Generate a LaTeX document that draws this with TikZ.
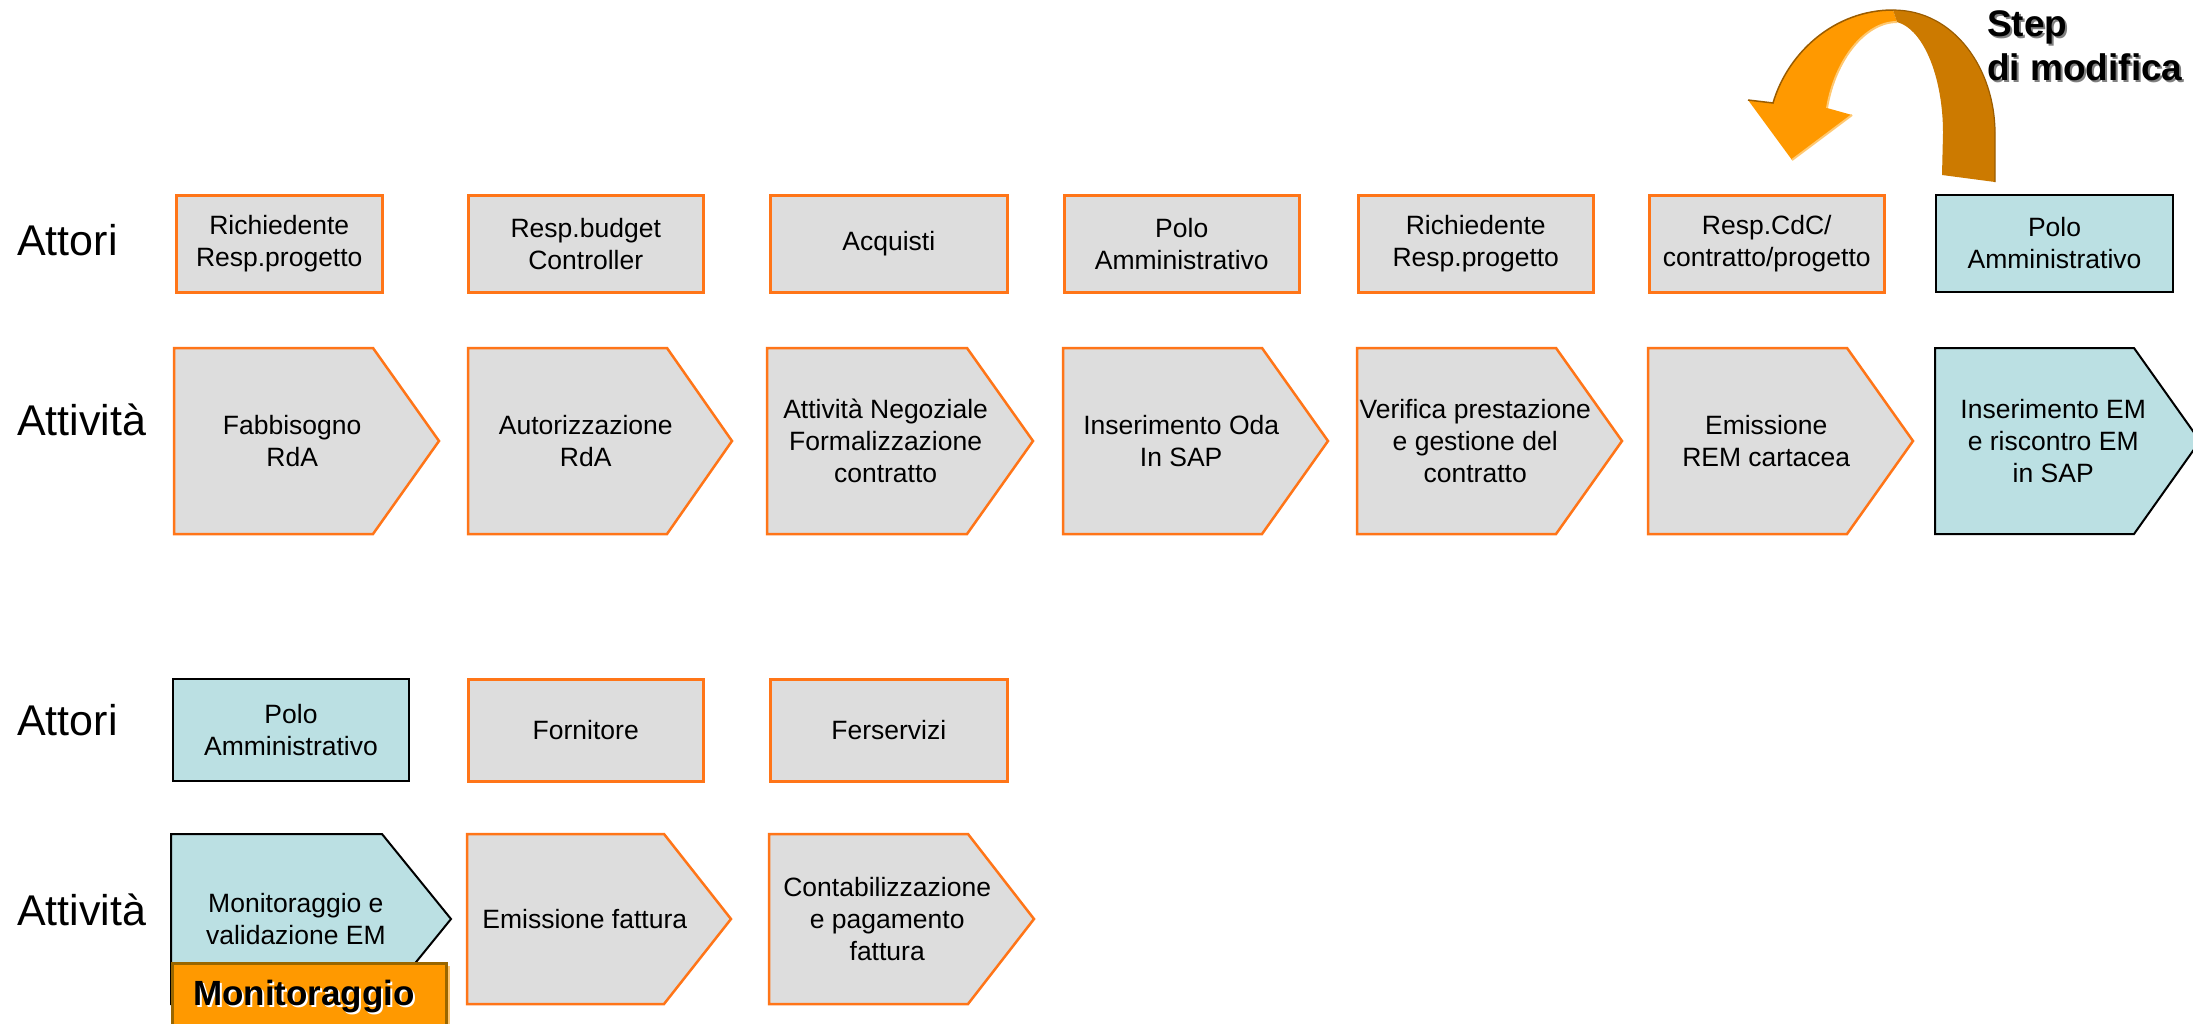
\documentclass[tikz,border=0pt]{standalone}
\usepackage{fontspec}
\setmainfont{Liberation Sans}
\definecolor{boxgray}{HTML}{DDDDDD}
\definecolor{boxorange}{HTML}{FF7518}
\definecolor{tealfill}{HTML}{BBE0E3}
\definecolor{arrowbright}{HTML}{FF9900}
\definecolor{arrowdark}{HTML}{CC7A00}
\definecolor{arrowedge}{HTML}{9A5C00}
\definecolor{arrowlight}{HTML}{FFC870}
\definecolor{monfill}{HTML}{FF9900}
\definecolor{monedge}{HTML}{996600}
\tikzset{
  grayshape/.style={fill=boxgray, draw=boxorange, line width=2.5pt},
  tealshape/.style={fill=tealfill, draw=black, line width=2pt},
  bodytext/.style={font=\fontsize{26.5}{32}\selectfont, align=center, inner sep=0pt},
  actorbox/.style={bodytext, rectangle, anchor=north west},
  rowlabel/.style={font=\fontsize{43}{50}\selectfont, anchor=base west, inner sep=0pt},
  boldtext/.style={font=\bfseries\fontsize{35}{44}\selectfont, inner sep=0pt},
  steptext/.style={font=\bfseries\fontsize{37}{44}\selectfont, inner sep=0pt, align=left, anchor=north west},
}
\newcommand{\mkchev}[8]{%
  \draw[#7] (#2,#3) -- ++(#4,0) -- ++(#5,{#6/2}) -- ++(-#5,{#6/2}) -- ++(-#4,0) -- cycle;
  \node[bodytext] (#1) at ({#2+0.446*(#4+#5)},{#3+#6/2}) {#8};
}
\begin{document}
\begin{tikzpicture}[x=1pt,y=-1pt]
\useasboundingbox (0,0) rectangle (2193,1023);
\fill[white] (0,0) rectangle (2193,1023);

% row labels
\node[rowlabel] (l1) at (17,255) {Attori};
\node[rowlabel] (l2) at (17,435) {Attività};
\node[rowlabel] (l3) at (17,735) {Attori};
\node[rowlabel] (l4) at (17,925) {Attività};

% row 1 actors
\node[actorbox, grayshape, minimum width=206pt, minimum height=97pt] (a1) at (175,194) {Richiedente\\Resp.progetto};
\node[actorbox, grayshape, minimum width=235pt, minimum height=97pt] (a2) at (467,194) {Resp.budget\\Controller};
\node[actorbox, grayshape, minimum width=237pt, minimum height=97pt] (a3) at (769,194) {Acquisti};
\node[actorbox, grayshape, minimum width=235pt, minimum height=97pt] (a4) at (1063,194) {Polo\\Amministrativo};
\node[actorbox, grayshape, minimum width=235pt, minimum height=97pt] (a5) at (1357,194) {Richiedente\\Resp.progetto};
\node[actorbox, grayshape, minimum width=235pt, minimum height=97pt] (a6) at (1648,194) {Resp.CdC/\\contratto/progetto};
\node[actorbox, tealshape, minimum width=237pt, minimum height=97pt] (a7) at (1935,194) {Polo\\Amministrativo};

% row 1 activities
\mkchev{c1}{174}{348}{199}{66}{186}{grayshape}{Fabbisogno\\RdA}
\mkchev{c2}{468}{348}{199}{65}{186}{grayshape}{Autorizzazione\\RdA}
\mkchev{c3}{767}{348}{200}{66}{186}{grayshape}{Attività Negoziale\\Formalizzazione\\contratto}
\mkchev{c4}{1063}{348}{199}{66}{186}{grayshape}{Inserimento Oda\\In SAP}
\mkchev{c5}{1357}{348}{199}{66}{186}{grayshape}{Verifica prestazione\\e gestione del\\contratto}
\mkchev{c6}{1648}{348}{199}{66}{186}{grayshape}{Emissione\\REM cartacea}
\mkchev{c7}{1935}{348}{199}{66}{186}{tealshape}{Inserimento EM\\e riscontro EM\\in SAP}

% row 2 actors
\node[actorbox, tealshape, minimum width=236pt, minimum height=102pt] (b1) at (172,678) {Polo\\Amministrativo};
\node[actorbox, grayshape, minimum width=235pt, minimum height=102pt] (b2) at (467,678) {Fornitore};
\node[actorbox, grayshape, minimum width=237pt, minimum height=102pt] (b3) at (769,678) {Ferservizi};

% row 2 activities
\mkchev{d1}{171}{834}{211}{69}{170}{tealshape}{Monitoraggio e\\validazione EM}
\mkchev{d2}{467}{834}{197}{67}{170}{grayshape}{Emissione fattura}
\mkchev{d3}{769}{834}{199}{66}{170}{grayshape}{Contabilizzazione\\e pagamento\\fattura}

% Monitoraggio box
\fill[monfill!55] (176,966) rectangle (450,1035);
\node[draw=monedge, fill=monfill, line width=2.5pt, anchor=north west, minimum width=274pt, minimum height=75pt, inner sep=0pt] (mon) at (171,962) {};
\node[boldtext, text=white, anchor=base] (monshadow) at (306,1007) {Monitoraggio};
\node[boldtext, anchor=base] (montxt) at (304,1005) {Monitoraggio};

% curved arrow: bright part
\fill[arrowbright] (1773,103) .. controls (1788,52) and (1835,10) .. (1893,10)
  -- (1897,22) .. controls (1865,22) and (1835,60) .. (1827,108)
  -- (1852,115) -- (1792,160) -- (1748,100) -- cycle;
\draw[arrowedge, line width=1.5pt] (1748,100) -- (1773,103) .. controls (1788,52) and (1835,10) .. (1893,10);
\draw[arrowlight, line width=2pt] (1897,22) .. controls (1865,22) and (1835,60) .. (1827,108);
\draw[arrowlight, line width=2pt] (1852,115) -- (1792,160);
% curved arrow: dark part
\fill[arrowdark] (1893,10) .. controls (1955,10) and (1995,70) .. (1995,133)
  -- (1995,182) -- (1942,175) -- (1943,133)
  .. controls (1943,80) and (1925,30) .. (1897,22) -- cycle;
\draw[arrowedge, line width=1.2pt] (1893,10) .. controls (1955,10) and (1995,70) .. (1995,133) -- (1995,182);

% Step di modifica
\node[steptext, text=gray] (stepshadow) at (1989,12) {Step\\di modifica};
\node[steptext] (steptxt) at (1987,10) {Step\\di modifica};
\end{tikzpicture}
\end{document}
